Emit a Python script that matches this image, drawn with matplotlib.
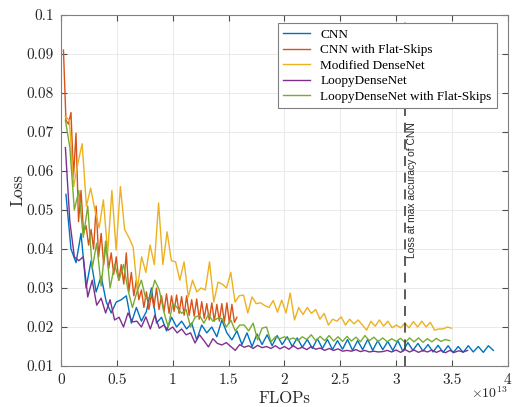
"""Validation loss vs. FLOPs for the five network variants."""
import matplotlib
matplotlib.use("Agg")
import matplotlib.pyplot as plt
import numpy as np

# FLOPs spent per epoch for each model (units of 1e13)
FLOPS_PER_EPOCH = {
    "cnn": 0.045,
    "cnn_fs": 0.0225,
    "mod_dense": 0.038,
    "loopy": 0.04,
    "loopy_fs": 0.04,
}

loss_cnn = [
    0.054, 0.040, 0.0365, 0.044, 0.030, 0.037, 0.029, 0.033, 0.0265, 0.0236,
    0.0264, 0.027, 0.028, 0.021, 0.025, 0.0215, 0.024, 0.030, 0.021, 0.0225,
    0.019, 0.0225, 0.020, 0.0215, 0.0195, 0.021, 0.0167, 0.0205, 0.0185, 0.0200,
    0.0175, 0.0218, 0.0185, 0.0167, 0.019, 0.0155, 0.0185, 0.015, 0.0182, 0.0155,
    0.018, 0.0152, 0.0178, 0.0155, 0.0175, 0.015, 0.0172, 0.0148, 0.0168, 0.0145,
    0.017, 0.0145, 0.0168, 0.0142, 0.0165, 0.0143, 0.0168, 0.014, 0.0165, 0.0142,
    0.0168, 0.014, 0.0165, 0.0142, 0.0163, 0.014, 0.0165, 0.0138, 0.0160, 0.0140,
    0.0158, 0.0138, 0.0155, 0.0136, 0.0153, 0.0135, 0.0152, 0.0134, 0.0150, 0.0135,
    0.0152, 0.0136, 0.0150, 0.0135, 0.0152, 0.0140,
]

loss_cnn_fs = [
    0.091, 0.073, 0.072, 0.075, 0.0585, 0.0697, 0.047, 0.055, 0.044, 0.046,
    0.041, 0.045, 0.040, 0.051, 0.038, 0.044, 0.036, 0.042, 0.035, 0.039,
    0.0335, 0.038, 0.032, 0.036, 0.031, 0.039, 0.029, 0.034, 0.028, 0.032,
    0.027, 0.0295, 0.025, 0.029, 0.0245, 0.0285, 0.025, 0.030, 0.0245, 0.028,
    0.024, 0.0285, 0.0235, 0.028, 0.024, 0.0282, 0.0235, 0.0278, 0.023, 0.028,
    0.023, 0.027, 0.0228, 0.0272, 0.022, 0.0265, 0.0222, 0.026, 0.0218, 0.0262,
    0.0215, 0.0258, 0.0215, 0.026, 0.0212, 0.0262, 0.021, 0.0258, 0.0212, 0.0225,
]

loss_mod_dense = [
    0.074, 0.073, 0.056, 0.062, 0.067, 0.051, 0.0556, 0.050, 0.0454, 0.0526,
    0.039, 0.055, 0.0397, 0.056, 0.045, 0.043, 0.0405, 0.0295, 0.038, 0.034,
    0.041, 0.036, 0.0518, 0.036, 0.0444, 0.037, 0.0367, 0.032, 0.0367, 0.0277,
    0.032, 0.029, 0.030, 0.0295, 0.0367, 0.0264, 0.0315, 0.031, 0.030, 0.034,
    0.0264, 0.028, 0.0282, 0.0236, 0.0277, 0.026, 0.0262, 0.0255, 0.025, 0.0268,
    0.0238, 0.0269, 0.0236, 0.0287, 0.0218, 0.025, 0.0232, 0.025, 0.0235, 0.0245,
    0.022, 0.0235, 0.0205, 0.022, 0.0215, 0.0226, 0.0205, 0.022, 0.0208, 0.0218,
    0.0205, 0.0192, 0.0215, 0.0202, 0.0218, 0.0202, 0.0215, 0.0198, 0.0205, 0.0198,
    0.021, 0.0198, 0.0214, 0.0200, 0.0215, 0.0200, 0.0212, 0.0192, 0.0195, 0.0195,
    0.0200, 0.0197,
]

loss_loopy = [
    0.066, 0.047, 0.038, 0.037, 0.038, 0.0277, 0.032, 0.0256, 0.0274, 0.0236,
    0.027, 0.0218, 0.0225, 0.020, 0.0236, 0.0213, 0.0215, 0.0200, 0.0226, 0.0195,
    0.023, 0.0197, 0.0205, 0.0192, 0.020, 0.0185, 0.0195, 0.018, 0.0185, 0.0159,
    0.018, 0.0165, 0.0149, 0.017, 0.0158, 0.0154, 0.0160, 0.0150, 0.0140, 0.0155,
    0.0148, 0.0152, 0.0145, 0.0153, 0.0147, 0.0150, 0.0145, 0.0152, 0.0144, 0.0150,
    0.0143, 0.0152, 0.0144, 0.0148, 0.0142, 0.0150, 0.0143, 0.0146, 0.0140, 0.0145,
    0.0140, 0.0144, 0.0138, 0.0140, 0.0138, 0.0142, 0.0137, 0.0140, 0.0136, 0.0138,
    0.0136, 0.0137, 0.0140, 0.0136, 0.0141, 0.0135, 0.0142, 0.0136, 0.0141, 0.0135,
    0.0140, 0.0136, 0.0141, 0.0135, 0.0140, 0.0134, 0.0140, 0.0135, 0.0139, 0.0136,
    0.0140,
]

loss_loopy_fs = [
    0.073, 0.066, 0.050, 0.055, 0.043, 0.051, 0.035, 0.0415, 0.0305, 0.042,
    0.030, 0.036, 0.032, 0.036, 0.0295, 0.025, 0.029, 0.032, 0.0272, 0.0277,
    0.032, 0.0295, 0.024, 0.020, 0.026, 0.025, 0.0235, 0.0245, 0.020, 0.0225,
    0.023, 0.021, 0.0232, 0.0215, 0.0222, 0.0222, 0.0200, 0.0218, 0.0190, 0.0205,
    0.0205, 0.0190, 0.0210, 0.0167, 0.0197, 0.0200, 0.0162, 0.0175, 0.0170, 0.0175,
    0.0168, 0.0172, 0.0165, 0.0175, 0.0168, 0.0180, 0.0165, 0.0176, 0.0165, 0.0178,
    0.0164, 0.0175, 0.0163, 0.0176, 0.0164, 0.0174, 0.0162, 0.0178, 0.0165, 0.0174,
    0.0163, 0.0172, 0.0162, 0.0170, 0.0163, 0.0171, 0.0160, 0.0172, 0.0162, 0.0172,
    0.0161, 0.0170, 0.0162, 0.0171, 0.0163, 0.0168, 0.0165,
]

SERIES = [
    ("CNN", "cnn", loss_cnn, "#0072BD"),
    ("CNN with Flat-Skips", "cnn_fs", loss_cnn_fs, "#D95319"),
    ("Modified DenseNet", "mod_dense", loss_mod_dense, "#EDB120"),
    ("LoopyDenseNet", "loopy", loss_loopy, "#7E2F8E"),
    ("LoopyDenseNet with Flat-Skips", "loopy_fs", loss_loopy_fs, "#77AC30"),
]

CNN_BEST_FLOPS = 3.08  # x1e13
X_TICKS = [0, 0.5, 1, 1.5, 2, 2.5, 3, 3.5, 4]
Y_TICKS = [0.01, 0.02, 0.03, 0.04, 0.05, 0.06, 0.07, 0.08, 0.09, 0.1]

plt.rcParams["mathtext.fontset"] = "cm"
plt.rcParams["axes.unicode_minus"] = False

fig = plt.figure(figsize=(5.12, 4.07), dpi=100)
ax = fig.add_axes([0.119, 0.1007, 0.873, 0.8625])

for label, key, loss, color in SERIES:
    x = np.arange(1, len(loss) + 1) * FLOPS_PER_EPOCH[key]
    ax.plot(x, loss, color=color, lw=1.0, label=label)

ax.axvline(CNN_BEST_FLOPS, color="#404040", lw=1.2, ls=(0, (6, 4)))
ax.text(CNN_BEST_FLOPS + 0.065, 0.0377, "Loss at max accuracy of CNN",
        rotation=90, ha="center", va="bottom", fontsize=7.4,
        family="Liberation Sans", color="#262626")

ax.set_xlim(0, 4)
ax.set_ylim(0.01, 0.1)
ax.set_xticks(X_TICKS)
ax.set_yticks(Y_TICKS)
ax.set_xticklabels([f"{v:g}" for v in X_TICKS], family="cmr10", fontsize=11)
ax.set_yticklabels([f"{v:g}" for v in Y_TICKS], family="cmr10", fontsize=11)
ax.grid(True, color="#e6e6e6", lw=0.6)
ax.set_axisbelow(True)
ax.tick_params(direction="in", top=True, right=True, length=4,
               color="#4d4d4d", labelcolor="#262626", pad=5)
for s in ax.spines.values():
    s.set_color("#808080")
    s.set_linewidth(0.8)

ax.set_xlabel("FLOPs", family="cmr10", fontsize=12, color="#262626", labelpad=3)
ax.set_ylabel("Loss", family="cmr10", fontsize=12, color="#262626", labelpad=0.5)
ax.text(1.0, -0.055, r"$\times 10^{13}$", transform=ax.transAxes,
        ha="right", va="top", fontsize=10, color="#262626")

leg = ax.legend(loc="upper right", prop={"family": "Liberation Serif", "size": 9.5},
                handlelength=2.0, labelspacing=0.25, borderpad=0.4,
                fancybox=False, framealpha=1, edgecolor="#808080",
                bbox_to_anchor=(0.99, 0.995))
leg.get_frame().set_linewidth(0.8)

fig.savefig("out.png", dpi=100)
